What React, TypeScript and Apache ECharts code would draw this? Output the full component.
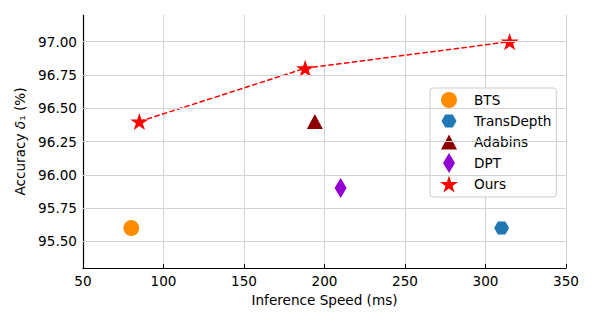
import React, { useEffect, useRef } from "react";
import * as echarts from "echarts";

const xTicks = [50, 100, 150, 200, 250, 300, 350];
const yTicks = [95.5, 95.75, 96.0, 96.25, 96.5, 96.75, 97.0];

const btsData = [[80, 95.6]];
const transDepthData = [[310, 95.6]];
const adabinsData = [[194, 96.4]];
const dptData = [[210, 95.9]];
const oursData = [
  [85, 96.4],
  [188, 96.8],
  [315, 97.0],
];

const PAD = "M0 0 M200 200 ";
const CIRCLE = "path://" + PAD + "M20 100 A80 80 0 1 0 180 100 A80 80 0 1 0 20 100 Z";
const HEX = "path://" + PAD + "M25 100 L62.5 35 L137.5 35 L175 100 L137.5 165 L62.5 165 Z";
const TRI = "path://" + PAD + "M100 25 L180 175 L20 175 Z";
const DIAM = "path://" + PAD + "M100 0 L160 100 L100 200 L40 100 Z";
const STAR =
  "path://" +
  PAD +
  "M100 14.1 L121.3 79.7 L190.3 79.7 L134.5 120.3 L155.9 185.9 L100 145.4 L44.1 185.9 L65.5 120.3 L9.7 79.7 L78.7 79.7 Z";

const FONT = "DejaVu Sans";
const FS = 13.6;

export default function App() {
  const ref = useRef<HTMLDivElement>(null);
  useEffect(() => {
    if (!ref.current) return;
    const chart = echarts.init(ref.current, undefined, { renderer: "svg" });
    const scatter = (name: string, data: number[][], symbol: string, color: string) => ({
      name,
      type: "scatter",
      data,
      symbol,
      symbolSize: 20,
      itemStyle: { color, opacity: 1 },
      z: 3,
    });
    chart.setOption({
      animation: false,
      backgroundColor: "#ffffff",
      textStyle: { fontFamily: FONT },
      grid: { left: 83, right: 28, top: 15, bottom: 55 },
      xAxis: {
        type: "value",
        min: 50,
        max: 350,
        interval: 50,
        name: "Inference Speed (ms)",
        nameLocation: "middle",
        nameGap: 25,
        nameTextStyle: { fontSize: FS, color: "#000", fontFamily: FONT },
        axisLine: { show: true, lineStyle: { color: "#000", width: 1.2 } },
        axisTick: { show: true, inside: true, length: 4, lineStyle: { color: "#000" } },
        axisLabel: {
          fontSize: FS,
          color: "#000",
          margin: 6,
          fontFamily: FONT,
          customValues: xTicks,
        },
        splitLine: { show: true, lineStyle: { color: "#d3d3d3", width: 1 } },
      },
      yAxis: {
        type: "value",
        min: 95.3,
        max: 97.2,
        name: "{a|Accuracy }{i|δ}{a|₁ (%)}",
        nameLocation: "middle",
        nameGap: 47,
        nameTextStyle: {
          fontSize: FS,
          color: "#000",
          fontFamily: FONT,
          rich: {
            a: { fontSize: FS, color: "#000", fontFamily: FONT },
            i: { fontSize: FS, color: "#000", fontFamily: FONT, fontStyle: "italic" },
          },
        },
        axisLine: { show: true, lineStyle: { color: "#000", width: 1.2 } },
        axisTick: {
          show: true,
          inside: true,
          length: 4,
          lineStyle: { color: "#000" },
          customValues: yTicks,
        },
        axisLabel: {
          fontSize: FS,
          color: "#000",
          margin: 6,
          fontFamily: FONT,
          customValues: yTicks,
          formatter: (v: number) => v.toFixed(2),
        },
        splitLine: { show: false },
      },
      legend: {
        orient: "vertical",
        left: 430,
        top: 88,
        itemWidth: 20,
        itemHeight: 20,
        itemGap: 1,
        padding: [2, 5, 3, 9],
        backgroundColor: "rgba(255,255,255,0.85)",
        borderColor: "#cccccc",
        borderWidth: 1,
        borderRadius: 3,
        textStyle: { fontSize: FS, color: "#000", fontFamily: FONT, padding: [0, 0, 0, 10] },
        data: [
          { name: "BTS", icon: CIRCLE },
          { name: "TransDepth", icon: HEX },
          { name: "Adabins", icon: TRI },
          { name: "DPT", icon: DIAM },
          { name: "Ours", icon: STAR },
        ],
      },
      series: [
        scatter("BTS", btsData, CIRCLE, "#ff8c00"),
        scatter("TransDepth", transDepthData, HEX, "#1f77b4"),
        scatter("Adabins", adabinsData, TRI, "#8b0000"),
        scatter("DPT", dptData, DIAM, "#9400d3"),
        {
          name: "Ours",
          type: "line",
          data: oursData,
          symbol: STAR,
          symbolSize: 20,
          showAllSymbol: true,
          itemStyle: { color: "#ff0000" },
          lineStyle: { color: "#ff0000", width: 1.5, type: [5.5, 2.4] },
          z: 4,
        },
        {
          name: "grid-y",
          type: "line",
          data: [],
          silent: true,
          markLine: {
            silent: true,
            symbol: "none",
            label: { show: false },
            lineStyle: { color: "#d3d3d3", width: 1, type: "solid" },
            data: yTicks.map((v) => ({ yAxis: v })),
          },
          z: 1,
        },
      ],
    });
    return () => chart.dispose();
  }, []);
  return <div ref={ref} style={{ width: 594, height: 323, margin: -8 }} />;
}
